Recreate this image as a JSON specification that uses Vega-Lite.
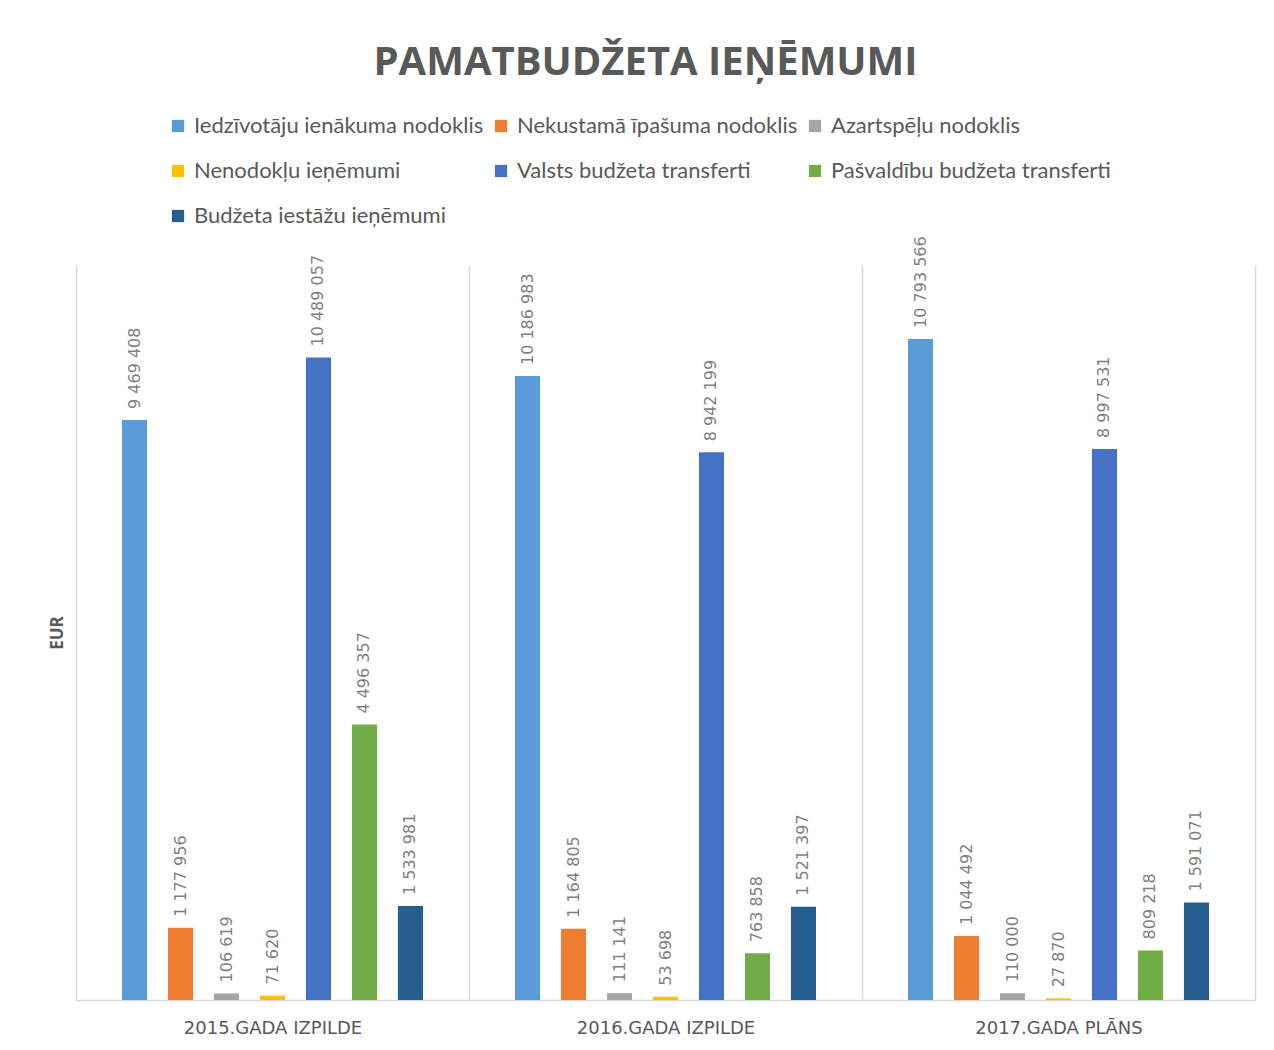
{
  "$schema": "https://vega.github.io/schema/vega-lite/v6.json",
  "autosize": {"type": "none"},
  "width": 1179,
  "height": 735,
  "padding": {"left": 76, "top": 265, "right": 19, "bottom": 50},
  "background": "white",
  "config": {
    "locale": {"number": {"decimal": ",", "thousands": " ", "grouping": [3], "currency": ["", " €"]}},
    "view": {"stroke": null},
    "font": "Lato"
  },
  "title": {
    "text": "PAMATBUDŽETA  IEŅĒMUMI",
    "font": "Open Sans",
    "fontSize": 40,
    "fontWeight": "bold",
    "color": "#595959",
    "anchor": "middle",
    "offset": 32,
    "dx": -20
  },
  "data": {
    "values": [
      {"gads": "2015.GADA IZPILDE", "veids": "Iedzīvotāju ienākuma nodoklis", "eur": 9469408},
      {"gads": "2015.GADA IZPILDE", "veids": "Nekustamā īpašuma nodoklis", "eur": 1177956},
      {"gads": "2015.GADA IZPILDE", "veids": "Azartspēļu nodoklis", "eur": 106619},
      {"gads": "2015.GADA IZPILDE", "veids": "Nenodokļu ieņēmumi", "eur": 71620},
      {"gads": "2015.GADA IZPILDE", "veids": "Valsts budžeta transferti", "eur": 10489057},
      {"gads": "2015.GADA IZPILDE", "veids": "Pašvaldību budžeta transferti", "eur": 4496357},
      {"gads": "2015.GADA IZPILDE", "veids": "Budžeta iestāžu ieņēmumi", "eur": 1533981},
      {"gads": "2016.GADA IZPILDE", "veids": "Iedzīvotāju ienākuma nodoklis", "eur": 10186983},
      {"gads": "2016.GADA IZPILDE", "veids": "Nekustamā īpašuma nodoklis", "eur": 1164805},
      {"gads": "2016.GADA IZPILDE", "veids": "Azartspēļu nodoklis", "eur": 111141},
      {"gads": "2016.GADA IZPILDE", "veids": "Nenodokļu ieņēmumi", "eur": 53698},
      {"gads": "2016.GADA IZPILDE", "veids": "Valsts budžeta transferti", "eur": 8942199},
      {"gads": "2016.GADA IZPILDE", "veids": "Pašvaldību budžeta transferti", "eur": 763858},
      {"gads": "2016.GADA IZPILDE", "veids": "Budžeta iestāžu ieņēmumi", "eur": 1521397},
      {"gads": "2017.GADA PLĀNS", "veids": "Iedzīvotāju ienākuma nodoklis", "eur": 10793566},
      {"gads": "2017.GADA PLĀNS", "veids": "Nekustamā īpašuma nodoklis", "eur": 1044492},
      {"gads": "2017.GADA PLĀNS", "veids": "Azartspēļu nodoklis", "eur": 110000},
      {"gads": "2017.GADA PLĀNS", "veids": "Nenodokļu ieņēmumi", "eur": 27870},
      {"gads": "2017.GADA PLĀNS", "veids": "Valsts budžeta transferti", "eur": 8997531},
      {"gads": "2017.GADA PLĀNS", "veids": "Pašvaldību budžeta transferti", "eur": 809218},
      {"gads": "2017.GADA PLĀNS", "veids": "Budžeta iestāžu ieņēmumi", "eur": 1591071}
    ]
  },
  "encoding": {
    "x": {
      "field": "gads", "type": "nominal", "sort": null,
      "scale": {"paddingInner": 0, "paddingOuter": 0},
      "axis": {
        "title": null, "labelAngle": 0, "tickBand": "extent", "ticks": false,
        "grid": true, "gridColor": "#d9d9d9", "gridWidth": 1.5,
        "domainColor": "#d9d9d9", "domainWidth": 1.5,
        "labelFont": "DejaVu Sans", "labelFontSize": 18, "labelColor": "#595959",
        "labelPadding": 19
      }
    },
    "xOffset": {
      "field": "veids", "type": "nominal", "sort": null,
      "scale": {"paddingInner": 0.4545, "paddingOuter": 1.18}
    },
    "y": {
      "field": "eur", "type": "quantitative",
      "scale": {"domain": [0, 12000000], "nice": false},
      "axis": {
        "title": "EUR", "labels": false, "ticks": false, "domain": false, "grid": false,
        "titleFont": "Open Sans", "titleFontSize": 17, "titleFontWeight": "bold",
        "titleColor": "#595959", "titlePadding": 10
      }
    }
  },
  "layer": [
    {
      "mark": {"type": "bar"},
      "encoding": {
        "color": {
          "field": "veids", "type": "nominal", "sort": null,
          "scale": {
            "domain": ["Iedzīvotāju ienākuma nodoklis", "Nekustamā īpašuma nodoklis", "Azartspēļu nodoklis", "Nenodokļu ieņēmumi", "Valsts budžeta transferti", "Pašvaldību budžeta transferti", "Budžeta iestāžu ieņēmumi"],
            "range": ["#5B9BD5", "#ED7D31", "#A5A5A5", "#FFC000", "#4472C4", "#70AD47", "#255E91"]
          },
          "legend": {
            "title": null, "orient": "none", "legendX": 91, "legendY": -150,
            "direction": "horizontal",
            "columns": 3, "columnPadding": 6, "rowPadding": 23,
            "symbolType": "square", "symbolSize": 150, "symbolStrokeWidth": 0,
            "labelFont": "Lato", "labelFontSize": 22, "labelColor": "#595959",
            "labelOffset": 5, "labelLimit": 400
          }
        }
      }
    },
    {
      "mark": {
        "type": "text", "angle": 270, "align": "left", "baseline": "middle",
        "dx": 11, "font": "DejaVu Sans", "fontSize": 16, "color": "#7f7f7f"
      },
      "encoding": {
        "text": {"field": "eur", "type": "quantitative", "format": ",d"}
      }
    }
  ]
}
